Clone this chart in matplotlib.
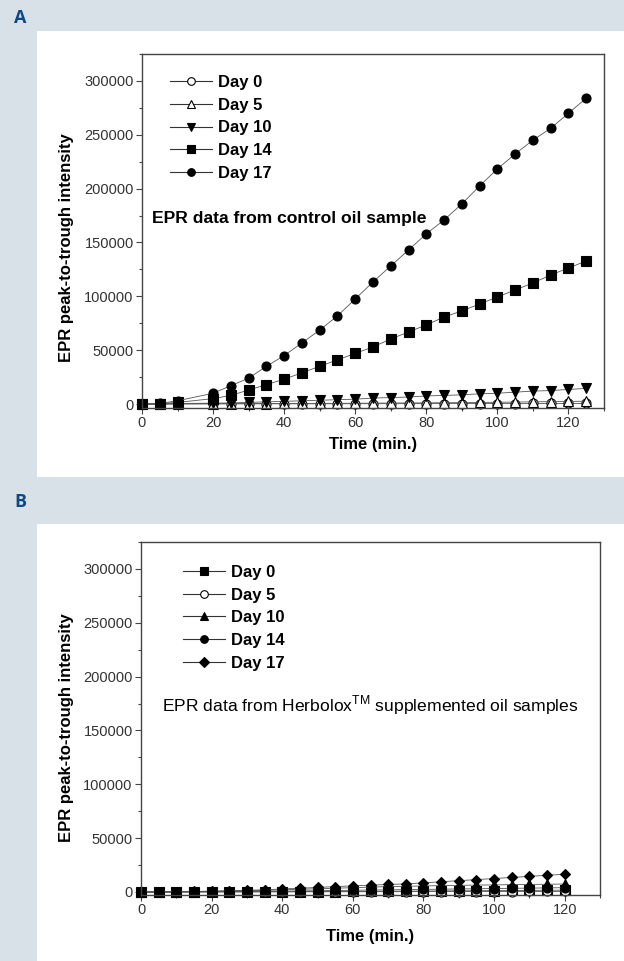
import matplotlib
matplotlib.use("Agg")
import matplotlib.pyplot as plt
from matplotlib.patches import Rectangle
from matplotlib.lines import Line2D
from matplotlib.ticker import MultipleLocator

plt.rcParams['font.family'] = ['Liberation Sans', 'DejaVu Sans']
plt.rcParams['mathtext.fontset'] = 'custom'
plt.rcParams['mathtext.rm'] = 'Liberation Sans'

# ---------------- data ----------------
labels = ["Day 0", "Day 5", "Day 10", "Day 14", "Day 17"]

time_a = [0, 5, 10, 20, 25, 30, 35, 40, 45, 50, 55, 60, 65, 70, 75, 80, 85, 90,
          95, 100, 105, 110, 115, 120, 125]
a_day0 = [0, 0, 100, 100, 150, 150, 200, 200, 200, 250, 250, 300, 300, 300, 350,
          350, 400, 400, 400, 450, 450, 500, 500, 500, 550]
a_day5 = [0, 0, 200, 300, 350, 400, 450, 500, 550, 600, 650, 700, 800, 900, 1000,
          1100, 1200, 1300, 1500, 1600, 1800, 2000, 2200, 2400, 2600]
a_day10 = [0, 0, 500, 800, 1000, 1500, 2000, 2500, 3000, 3500, 4000, 4500, 5500,
           6000, 6500, 7500, 8000, 8500, 9500, 10000, 11000, 12000, 12500, 13500, 14500]
a_day14 = [0, 300, 1500, 5000, 8000, 13000, 18000, 23000, 29000, 35000, 41000,
           47000, 53000, 60400, 66900, 73400, 80800, 86400, 92900, 99400, 105900,
           112400, 119800, 126300, 132800]
a_day17 = [0, 500, 3000, 10000, 17000, 24000, 35000, 45000, 56700, 68700, 81800,
           97500, 113300, 128200, 143000, 158000, 170900, 185800, 202500, 218300,
           232200, 245000, 256000, 270000, 284000]

time_b = [0, 5, 10, 15, 20, 25, 30, 35, 40, 45, 50, 55, 60, 65, 70, 75, 80, 85,
          90, 95, 100, 105, 110, 115, 120]
b_day0 = [0, 0, 0, 50, 100, 150, 200, 250, 300, 350, 400, 450, 500, 600, 700,
          800, 900, 1000, 1100, 1200, 1300, 1400, 1500, 1600, 1700]
b_day5 = [0, 0, 0, 0, 50, 50, 100, 100, 150, 150, 200, 200, 250, 250, 300, 300,
          350, 350, 400, 400, 450, 450, 500, 500, 550]
b_day10 = [0, 0, 200, 400, 600, 900, 1200, 1600, 2000, 2500, 3000, 3500, 4000,
           4500, 5000, 5300, 5600, 5900, 6200, 6400, 6600, 6800, 7000, 7200, 7400]
b_day14 = [0, 0, 100, 200, 300, 400, 500, 600, 800, 1000, 1200, 1400, 1600, 1800,
           2000, 2200, 2400, 2600, 2800, 3000, 3200, 3400, 3600, 3800, 4000]
b_day17 = [0, 0, 300, 500, 800, 1200, 1600, 2000, 2800, 3500, 4200, 5000, 5700,
           6300, 7000, 7500, 8500, 9500, 10500, 11500, 12500, 13500, 14500, 15500, 16500]

y_ticks = [0, 50000, 100000, 150000, 200000, 250000, 300000]
x_ticks = [0, 20, 40, 60, 80, 100, 120]

# ---------------- figure ----------------
W, H = 624, 961
fig = plt.figure(figsize=(W / 100, H / 100), dpi=100)
bg = "#d9e1e8"
fig.patch.set_facecolor(bg)


def px_rect(x0, y0, x1, y1, color):
    fig.patches.append(Rectangle((x0 / W, 1 - y1 / H), (x1 - x0) / W, (y1 - y0) / H,
                                 transform=fig.transFigure, facecolor=color,
                                 edgecolor='none', zorder=-10))


px_rect(37, 31, 624, 477, "white")
px_rect(37, 524, 624, 961, "white")
fig.text(20 / W, 1 - 18 / H, "A", fontsize=13, fontweight='bold', color="#0d4a85",
         family=['Open Sans', 'DejaVu Sans'], ha='center', va='center')
fig.text(20 / W, 1 - 502 / H, "B", fontsize=13, fontweight='bold', color="#0d4a85",
         family=['Open Sans', 'DejaVu Sans'], ha='center', va='center')

FS = 12


def make_axes(left, right, top, bottom, ylo):
    ax = fig.add_axes([left / W, 1 - bottom / H, (right - left) / W, (bottom - top) / H])
    ax.set_xlim(0, 130)
    ax.set_ylim(ylo, 325000)
    ax.set_xticks(x_ticks)
    ax.set_yticks(y_ticks)
    ax.set_yticklabels([str(v) for v in y_ticks])
    ax.yaxis.set_minor_locator(MultipleLocator(25000))
    ax.xaxis.set_minor_locator(MultipleLocator(10))
    ax.tick_params(axis='both', which='major', direction='out', length=4, width=0.8,
                   colors='#444444', labelsize=10.5, labelcolor='#333333', pad=2)
    ax.tick_params(axis='both', which='minor', direction='out', length=2.5, width=0.8,
                   colors='#444444')
    for sp in ax.spines.values():
        sp.set_color('#444444')
        sp.set_linewidth(1.0)
    ax.set_facecolor('white')
    return ax


lc = '#555555'
ms = 6.5

# Panel A
axA = make_axes(142, 604, 54, 408, -3700)
styleA = [dict(marker='o', mfc='white'), dict(marker='^', mfc='white'),
          dict(marker='v', mfc='black'), dict(marker='s', mfc='black'),
          dict(marker='o', mfc='black')]
seriesA = [a_day0, a_day5, a_day10, a_day14, a_day17]
for lab, ys, st in zip(labels, seriesA, styleA):
    axA.plot(time_a, ys, color=lc, lw=0.6, mec='black', ms=ms, mew=0.8, label=lab,
             clip_on=False, **st)
handlesA = [Line2D([0], [0], color='#333333', lw=0.8, mec='black', ms=5.5, mew=0.8, **st)
            for st in styleA]
fig.legend(handlesA, labels, loc='upper left', bbox_to_anchor=(170 / W, 1 - 75 / H),
           frameon=False, prop=dict(weight='bold', size=FS), handlelength=2.5,
           handletextpad=0.36, labelspacing=0.46, borderpad=0, borderaxespad=0)
fig.text(152 / W, 1 - 218 / H, "EPR data from control oil sample", fontsize=12.6,
         fontweight='bold', ha='left', va='center')
fig.text(66 / W, 1 - 248 / H, "EPR peak-to-trough intensity", fontsize=FS,
         fontweight='bold', rotation=90, ha='center', va='center')
fig.text(373 / W, 1 - 444 / H, "Time (min.)", fontsize=FS, fontweight='bold',
         ha='center', va='center')

# Panel B
axB = make_axes(141, 600, 542, 895, -2800)
styleB = [dict(marker='s', mfc='black'), dict(marker='o', mfc='white'),
          dict(marker='^', mfc='black'), dict(marker='o', mfc='black'),
          dict(marker='D', mfc='black')]
seriesB = [b_day0, b_day5, b_day10, b_day14, b_day17]
for lab, ys, st in zip(labels, seriesB, styleB):
    axB.plot(time_b, ys, color=lc, lw=0.6, mec='black',
             ms=ms if st['marker'] != 'D' else 5.5,
             mew=0.8, label=lab, clip_on=False, **st)
handlesB = [Line2D([0], [0], color='#333333', lw=0.8, mec='black',
                   ms=5.5 if st['marker'] != 'D' else 4.8, mew=0.8, **st)
            for st in styleB]
fig.legend(handlesB, labels, loc='upper left', bbox_to_anchor=(183 / W, 1 - 565 / H),
           frameon=False, prop=dict(weight='bold', size=FS), handlelength=2.5,
           handletextpad=0.36, labelspacing=0.46, borderpad=0, borderaxespad=0)
fig.text(162 / W, 1 - 705 / H,
         r"EPR data from Herbolox$^{\mathrm{TM}}$ supplemented oil samples",
         fontsize=12.6, ha='left', va='center')
fig.text(66 / W, 1 - 728 / H, "EPR peak-to-trough intensity", fontsize=FS,
         fontweight='bold', rotation=90, ha='center', va='center')
fig.text(370 / W, 1 - 936 / H, "Time (min.)", fontsize=FS, fontweight='bold',
         ha='center', va='center')

fig.savefig("out.png", dpi=100, facecolor=fig.get_facecolor())
